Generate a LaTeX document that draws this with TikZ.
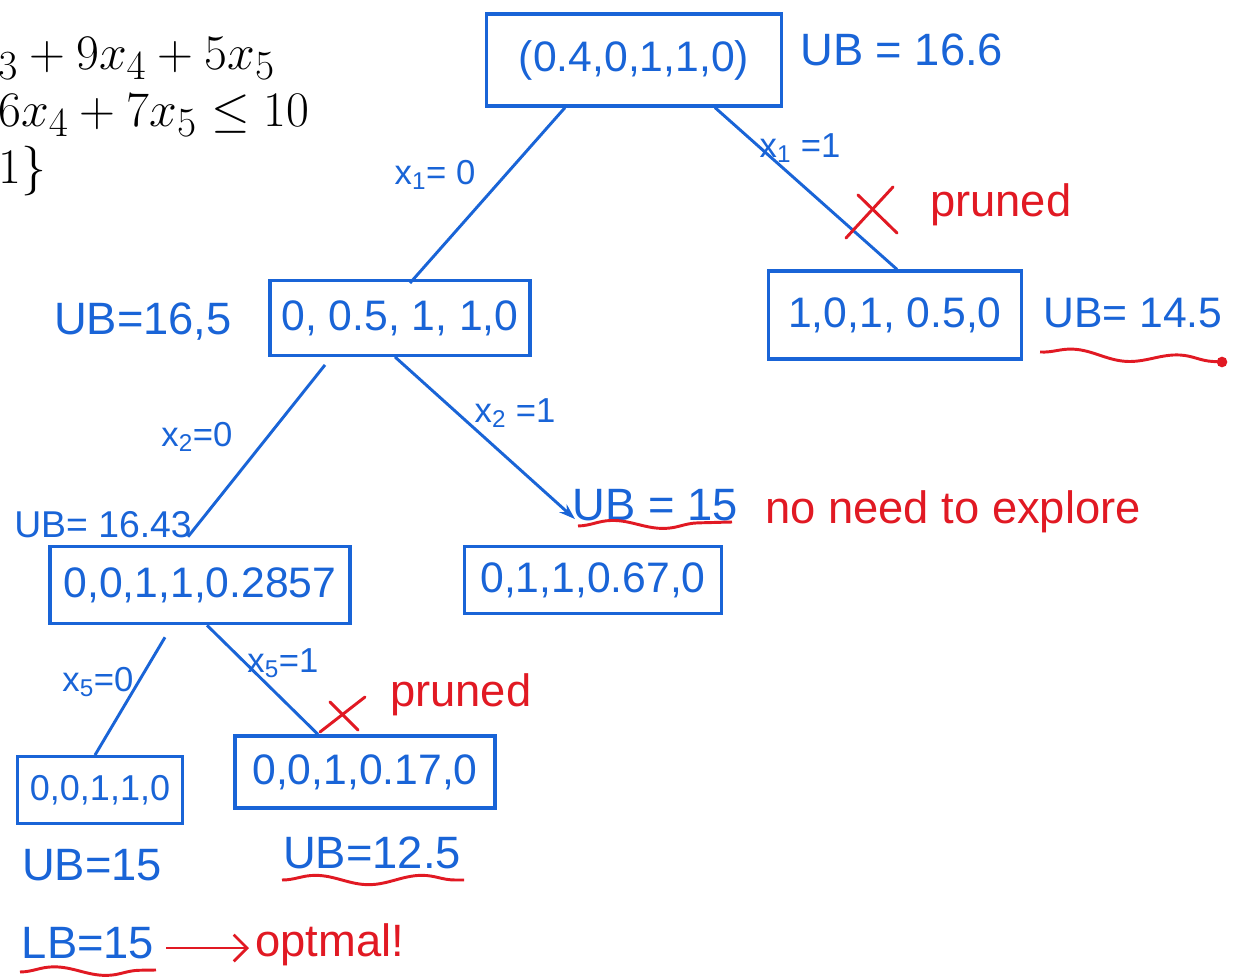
\documentclass[tikz,border=0pt]{standalone}
\usepackage{fontspec}
\setmainfont{Liberation Sans}
\usetikzlibrary{calc,decorations.pathmorphing,arrows.meta}
\definecolor{pen}{RGB}{25,100,215}
\definecolor{ink}{RGB}{225,25,35}
\begin{document}
\begin{tikzpicture}[x=0.75pt,y=-0.75pt,
  box/.style={draw=pen, line width=2.4pt, text=pen, font=\fontsize{32}{36}\selectfont, inner sep=0pt},
  lab/.style={text=pen, font=\fontsize{34}{38}\selectfont, inner sep=0pt},
  elab/.style={text=pen, font=\fontsize{26}{30}\selectfont, inner sep=0pt},
  note/.style={text=ink, font=\fontsize{34}{38}\selectfont, inner sep=0pt},
  edge/.style={draw=pen, line width=2.2pt},
  cross/.style={draw=ink, line width=2.2pt, line cap=round},
  wavy/.style={draw=ink, line width=2.2pt, decorate, decoration={snake, amplitude=3.5pt, segment length=80pt}},
  eq/.style={inner sep=0pt, anchor=base west}]
\useasboundingbox[fill=white] (0,0) rectangle (1235,980);

% cut-off formulation
\node[eq] (f1) at (-2,70) {\scalebox{1.5}{\Huge ${}_3 + 9x_4 + 5x_5$}};
\node[eq] (f2) at (-2,127) {\scalebox{1.5}{\Huge $6x_4 + 7x_5 \le 10$}};
\node[eq] (f3) at (-2,184) {\scalebox{1.5}{\Huge $1\}$}};

% boxes
\node[box, minimum width=221pt, minimum height=69pt] (root) at (634,60) {(0.4,0,1,1,0)};
\node[box, minimum width=195pt, minimum height=56pt] (L1) at (400,318) {0, 0.5, 1, 1,0};
\node[box, minimum width=190pt, minimum height=66pt] (R1) at (895,315) {1,0,1, 0.5,0};
\node[box, minimum width=225pt, minimum height=58pt] (L2) at (200,585) {0,0,1,1,0.2857};
\node[box, minimum width=193pt, minimum height=50pt] (M2) at (593,580) {0,1,1,0.67,0};
\node[box, minimum width=124pt, minimum height=50pt, font=\fontsize{27}{30}\selectfont] (L3) at (100,790) {0,0,1,1,0};
\node[box, minimum width=195pt, minimum height=54pt] (M3) at (365,772) {0,0,1,0.17,0};

% bound labels
\node[lab, anchor=west] (ub0) at (800,50) {UB = 16.6};
\node[lab, anchor=east] (ub1) at (232,322) {UB=16,5};
\node[lab, anchor=west, font=\fontsize{32}{36}\selectfont] (ubr) at (1043,313) {UB= 14.5};
\node[lab, anchor=west, font=\fontsize{28}{32}\selectfont] (ub2) at (14,525) {UB= 16.43};
\node[lab] (ubm) at (655,505) {UB = 15};
\node[lab] (ub3) at (92,865) {UB=15};
\node[lab] (ubm3) at (372,853) {UB=12.5};
\node[lab] (lb) at (88,943) {LB=15};

% notes
\node[note, anchor=west] (noneed) at (765,512) {no need to explore};
\node[note, anchor=west] (pr1) at (930,205) {pruned};
\node[note, anchor=west] (pr2) at (390,695) {pruned};
\node[note, anchor=west] (opt) at (255,945) {optmal!};

% branches
\draw[edge] ($(root.south)+(-69,0)$) -- ($(L1.north)+(10,4)$);
\draw[edge] ($(root.south)+(81,0)$) -- ($(R1.north)+(2,0)$);
\draw[edge] ($(L1.south)+(-75,8)$) -- ($(L2.north)+(-12,-8)$);
\draw[edge, -{Stealth[length=12pt,width=8pt]}] ($(L1.south)+(-5,0)$) -- ($(M2.north)+(-18,-26)$);
\draw[edge] ($(L2.south)+(-35,12)$) -- ($(L3.north)+(-5,0)$);
\draw[edge] ($(L2.south)+(7,0)$) -- ($(M3.north)+(-47,0)$);

% branch labels
\node[elab] (e1) at (435,175) {x\textsubscript{1}= 0};
\node[elab] (e2) at (800,148) {x\textsubscript{1} =1};
\node[elab] (e3) at (197,437) {x\textsubscript{2}=0};
\node[elab] (e4) at (515,413) {x\textsubscript{2} =1};
\node[elab] (e5) at (98,682) {x\textsubscript{5}=0};
\node[elab] (e6) at (283,663) {x\textsubscript{5}=1};

% crosses
\draw[cross] (846,238) -- (893,187);
\draw[cross] (858,195) -- (897,233);
\draw[cross] (320,732) -- (365,697);
\draw[cross] (330,702) -- (358,730);

% wavy underlines
\draw[wavy] (1040,352) -- (1222,362);
\fill[ink] (1222,362) circle (4pt);
\draw[wavy] (578,526) -- (732,522);
\draw[wavy] (282,880) -- (464,880);
\draw[wavy] (20,972) -- (156,970);

% optimal arrow
\draw[draw=ink, line width=2pt, -{Straight Barb[length=10pt]}] ($(lb.east)+(12,5)$) -- ($(opt.west)+(-6,3)$);
\end{tikzpicture}
\end{document}
